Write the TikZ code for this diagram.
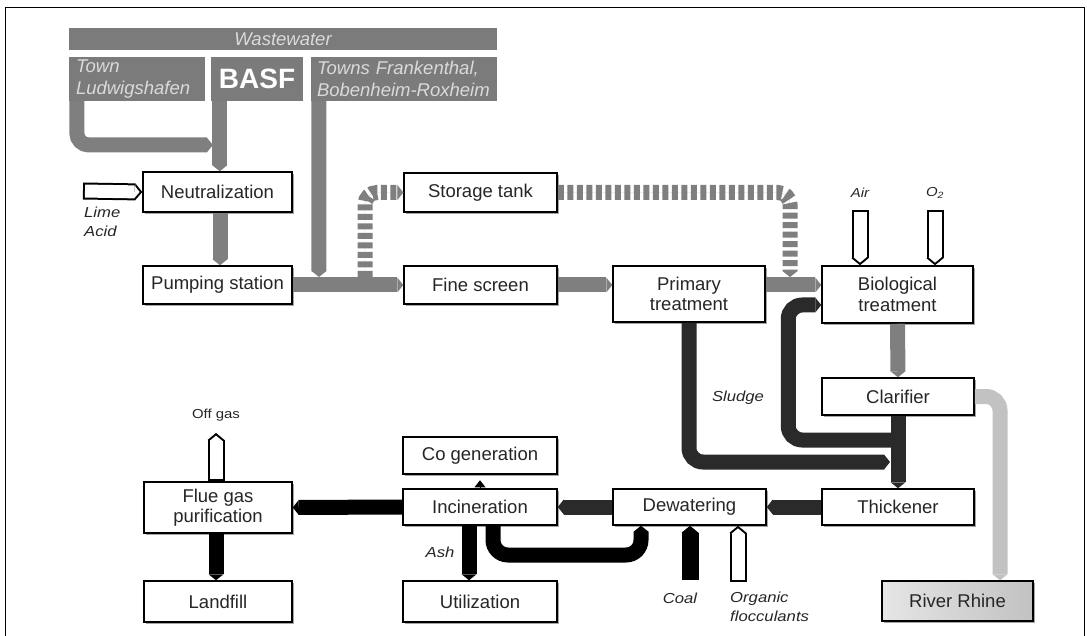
\documentclass[tikz,border=0pt]{standalone}
\usepackage{fontspec}
\setmainfont{Liberation Sans}
\newfontfamily\lblfont{Liberation Sans}[FakeStretch=1.15]
\usetikzlibrary{arrows.meta,calc,shadows}

\definecolor{hdr}{HTML}{7B7B7B}
\definecolor{hdrtext}{HTML}{DADADA}
\definecolor{pipegray}{HTML}{7F7F7F}
\definecolor{pipedark}{HTML}{2A2A2A}
\definecolor{pipelight}{HTML}{C2C2C2}
\definecolor{boxtext}{HTML}{262626}

% inlet tube: outlined bar with a pointed end (#1 fill, #2 start, #3 tip)
\newcommand\feedtube[3]{%
  \draw[line width=17pt, draw=black,
        -{Triangle[width=17pt,length=7pt,line width=0pt]}] (#2) -- (#3);
  \draw[line width=13pt, draw=#1, shorten <=2pt, shorten >=2.6pt,
        -{Triangle[width=13pt,length=5.4pt,line width=0pt]}] (#2) -- (#3);}

\tikzset{
  box/.style 2 args={draw=black, line width=1.5pt, fill=white,
    minimum width=#1pt, minimum height=#2pt, inner sep=0pt, align=center,
    text=boxtext, font=\fontsize{18.5}{20.5}\selectfont,
    drop shadow={shadow xshift=2pt, shadow yshift=-2pt, fill=black!35, opacity=1}},
  hdrbox/.style 2 args={fill=hdr, minimum width=#1pt, minimum height=#2pt,
    inner sep=0pt, text=hdrtext, font=\fontsize{18.5}{22}\selectfont\itshape},
  pipe/.style={line width=15pt, draw=pipegray, line cap=butt},
  darkpipe/.style={pipe, draw=pipedark},
  blackpipe/.style={pipe, draw=black},
  lightpipe/.style={pipe, draw=pipelight},
  dashpipe/.style={pipe, preaction={draw=black!18, solid},
    dash pattern=on 6pt off 3.5pt},
  ptip/.style={-{Triangle[width=15pt,length=6pt,line width=0pt]}},
  lbl/.style={inner sep=0pt, text=boxtext, font=\lblfont\fontsize{14.5}{19}\selectfont\itshape},
  tiny/.style={inner sep=0pt, text=boxtext, font=\lblfont\fontsize{13}{15}\selectfont},
}

\begin{document}
\begin{tikzpicture}[x=1pt, y=-1pt]
\useasboundingbox (0,0) rectangle (1087,636);

% page frame
\draw[line width=1pt] (5,636) -- (5,8) -- (1084,8) -- (1084,636);

% sources of wastewater
\node[hdrbox={428}{22}] (ww) at (283,39) {Wastewater};
\node[hdrbox={136}{44}, text width=122pt, align=left] (lud) at (137,79) {Town\\Ludwigshafen};
\node[hdrbox={92}{44}, text=white, font=\fontsize{28}{30}\selectfont\bfseries] (basf) at (257,79) {BASF};
\node[hdrbox={186}{44}, text width=174pt, align=left] (towns) at (404,79) {Towns Frankenthal,\\Bobenheim-Roxheim};

% process units
\node[box={149}{40}] (neut)  at (217.5,192)   {Neutralization};
\node[box={149}{38}] (pump)  at (217.5,285)   {Pumping station};
\node[box={153}{39}] (store) at (480.5,192.5) {Storage tank};
\node[box={153}{38}] (fine)  at (480.5,285)   {Fine screen};
\node[box={152}{56}] (prim)  at (689,294)     {Primary\\treatment};
\node[box={151}{57}] (bio)   at (897.5,294.5) {Biological\\treatment};
\node[box={152}{37}] (clar)  at (898,396.5)   {Clarifier};
\node[box={152}{36}] (thick) at (898,507)     {Thickener};
\node[box={153}{36}] (dew)   at (689.5,507)   {Dewatering};
\node[box={154}{36}] (inc)   at (480,507)     {Incineration};
\node[box={154}{37}] (cogen) at (480,455.5)   {Co generation};
\node[box={154}{41}] (util)  at (480,601.5)   {Utilization};
\node[box={148}{51}] (flue)  at (218,507.5)   {Flue gas\\purification};
\node[box={148}{41}] (land)  at (218,601.5)   {Landfill};
\node[box={151}{40}, left color=black!10, right color=black!24] (rhine) at (957.5,601) {River Rhine};

% free ends of connectors
\coordinate (split)  at (365,277);
\coordinate (merge)  at (790,277);
\coordinate (mainT)  at (319,277);
\coordinate (ludB)   at (77,145);
\coordinate (rj)     at (898,440);
\coordinate (rj2)    at (890,462);
\coordinate (loopB)  at (641,555);
\coordinate (limeS)  at (83,191);
\coordinate (offT)   at (216,433);
\coordinate (coalS)  at (690,580);
\coordinate (orgS)   at (738,582);

% wastewater feed
\draw[pipe, ptip, rounded corners=12pt] ([xshift=8pt]lud.south west) |- ([xshift=2pt]basf.south west |- ludB);
\draw[pipe, ptip] ([xshift=9pt]basf.south west) -- ([xshift=9pt]basf.south west |- neut.north);
\draw[pipe, ptip] ([xshift=8pt]towns.south west) -- (mainT);
\draw[pipe, ptip] ([xshift=2.5pt]neut.south) -- ([xshift=2.5pt]pump.north);

% storm water bypass through the storage tank
\draw[dashpipe, ptip, rounded corners=12pt] (split) |- (store.west);
\draw[dashpipe, ptip, rounded corners=12pt] (store.east) -| (merge);

% main water line
\draw[pipe, ptip] (pump.east) -- (fine.west);
\draw[pipe, ptip] (fine.east) -- (fine.east -| prim.west);
\draw[pipe, ptip] ([yshift=9pt]prim.east) -- ([yshift=9.5pt]bio.west);
\draw[pipe, ptip] (bio.south) -- (clar.north);
\draw[lightpipe, ptip, rounded corners=14pt] (clar.east) -| ([xshift=42.5pt]rhine.north);

% sludge line
\draw[darkpipe, ptip, rounded corners=14pt] (rj) -| ([xshift=-33pt, yshift=-10.5pt]bio.west) -- ([yshift=-10.5pt]bio.west);
\draw[darkpipe, ptip, rounded corners=14pt] (prim.south) |- (rj2);
\draw[darkpipe, ptip] (clar.south) -- (thick.north);
\draw[darkpipe, ptip] (thick.west) -- (dew.east);
\draw[darkpipe, ptip] (dew.west) -- (inc.east);
\draw[blackpipe, ptip] (inc.west) -- (flue.east);
\draw[blackpipe, ptip] ([xshift=-2pt]flue.south) -- ([xshift=-2pt]land.north);
\draw[blackpipe, ptip] ([xshift=-11pt]inc.south) -- ([xshift=-11pt]util.north);
\draw[blackpipe, ptip, rounded corners=15pt] ([xshift=13pt]inc.south) |- (loopB) -- ([xshift=-48.5pt]dew.south);
\draw[line width=1pt, -{Triangle[width=11pt,length=7pt,line width=0pt]}] (inc.north) -- ([yshift=8pt]inc.north);

% additives and off gas
\feedtube{white}{limeS}{neut.west}
\feedtube{white}{[xshift=-37.5pt]bio.north |- 0,210}{[xshift=-37.5pt]bio.north}
\feedtube{white}{[xshift=37.5pt]bio.north |- 0,210}{[xshift=37.5pt]bio.north}
\feedtube{white}{[xshift=-2pt]flue.north}{offT}
\feedtube{black}{coalS}{[xshift=0.5pt]dew.south}
\feedtube{white}{orgS}{[xshift=48.5pt]dew.south}

% labels
\node[lbl, anchor=west, align=left] (lime) at (84,222) {Lime\\Acid};
\node[lbl] (sludge) at (738,398) {Sludge};
\node[lbl] (ash) at (440,552) {Ash};
\node[lbl] (coal) at (680,598) {Coal};
\node[lbl, anchor=west, align=left] (org) at (730,607) {Organic\\flocculants};
\node[tiny, font=\lblfont\fontsize{13}{15}\selectfont\itshape] (air) at (860,193) {Air};
\node[tiny, font=\lblfont\fontsize{13}{15}\selectfont\itshape] (otwo) at (935,193) {O\textsubscript{2}};
\node[tiny] (offgas) at (216,415) {Off gas};
\end{tikzpicture}
\end{document}
